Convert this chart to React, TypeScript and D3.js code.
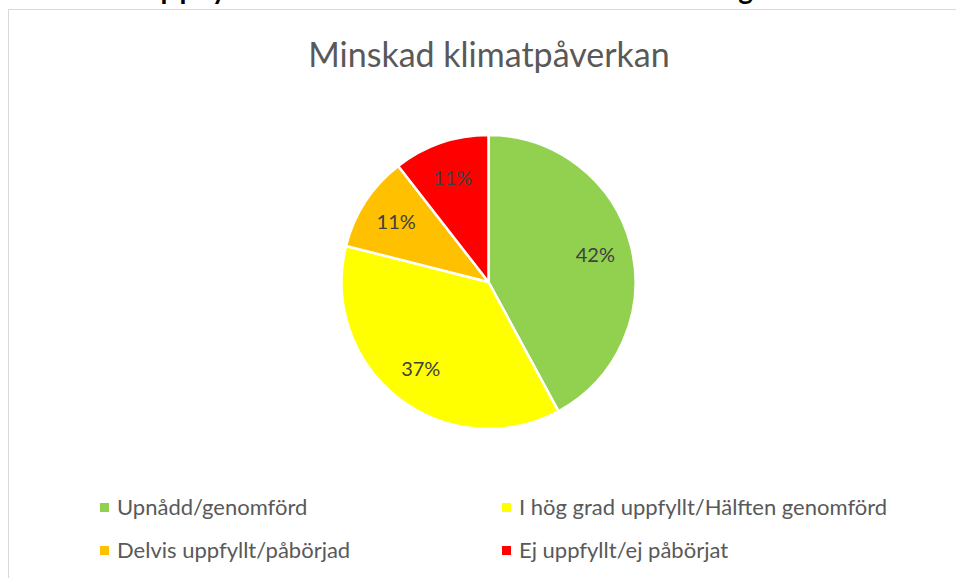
import React, { useEffect, useRef } from "react";
import * as d3 from "d3";

const categories = [
  "Upnådd/genomförd",
  "I hög grad uppfyllt/Hälften genomförd",
  "Delvis uppfyllt/påbörjad",
  "Ej uppfyllt/ej påbörjat",
];
const counts = [8, 7, 2, 2];
const colors = ["#92D050", "#FFFF00", "#FFC000", "#FF0000"];
const chartTitle = "Minskad klimatpåverkan";
const pageHeading = "Uppfyllnad av mål för hållbar utveckling";

const W = 956;
const H = 578;

const App: React.FC = () => {
  const svgRef = useRef<SVGSVGElement>(null);

  useEffect(() => {
    if (!svgRef.current) return;
    const svg = d3.select(svgRef.current);
    svg.selectAll("*").remove();

    const font = "Lato, 'Open Sans', sans-serif";

    // heading of the page, mostly cut off above the picture
    svg
      .append("text")
      .attr("x", 137)
      .attr("y", -1)
      .attr("textLength", 616)
      .attr("lengthAdjust", "spacing")
      .attr("font-family", font)
      .attr("font-weight", "bold")
      .attr("font-size", 28)
      .attr("fill", "#000")
      .text(pageHeading);

    // chart frame
    svg
      .append("rect")
      .attr("x", 8.5)
      .attr("y", 9.5)
      .attr("width", W + 20)
      .attr("height", H + 20)
      .attr("fill", "#fff")
      .attr("stroke", "#d9d9d9")
      .attr("stroke-width", 1);

    svg
      .append("text")
      .attr("x", 489)
      .attr("y", 67)
      .attr("text-anchor", "middle")
      .attr("font-family", font)
      .attr("font-size", 34)
      .attr("fill", "#595959")
      .text(chartTitle);

    const cx = 488.5;
    const cy = 282;
    const r = 147;
    const total = d3.sum(counts);

    const pie = d3
      .pie<number>()
      .sort(null)
      .value((d) => d);
    const arcs = pie(counts);
    const arc = d3.arc<d3.PieArcDatum<number>>().innerRadius(0).outerRadius(r);
    const labelArc = d3
      .arc<d3.PieArcDatum<number>>()
      .innerRadius(r * 0.75)
      .outerRadius(r * 0.75);

    const g = svg.append("g").attr("transform", `translate(${cx},${cy})`);

    g.selectAll("path")
      .data(arcs)
      .join("path")
      .attr("d", arc)
      .attr("fill", (_, i) => colors[i])
      .attr("stroke", "#fff")
      .attr("stroke-width", 2.5)
      .attr("stroke-linejoin", "round");

    g.selectAll("text.lbl")
      .data(arcs)
      .join("text")
      .attr("class", "lbl")
      .attr("transform", (d) => `translate(${labelArc.centroid(d)})`)
      .attr("text-anchor", "middle")
      .attr("dy", "0.35em")
      .attr("font-family", font)
      .attr("font-size", 20)
      .attr("fill", "#404040")
      .text((d) => `${Math.round((d.value / total) * 100)}%`);

    // legend
    const legendX = [100, 502];
    const legendY = [507, 550];
    const leg = svg
      .selectAll("g.leg")
      .data(categories)
      .join("g")
      .attr("class", "leg")
      .attr(
        "transform",
        (_, i) => `translate(${legendX[i % 2]},${legendY[Math.floor(i / 2)]})`
      );
    leg
      .append("rect")
      .attr("x", 0)
      .attr("y", -4)
      .attr("width", 9)
      .attr("height", 9)
      .attr("fill", (_, i) => colors[i]);
    leg
      .append("text")
      .attr("x", 17)
      .attr("y", 0)
      .attr("dy", "0.35em")
      .attr("font-family", font)
      .attr("font-size", 22)
      .attr("fill", "#595959")
      .text((d) => d);
  }, []);

  return (
    <div style={{ position: "absolute", left: 0, top: 0, width: W, height: H, overflow: "hidden" }}>
      <svg ref={svgRef} width={W} height={H} style={{ display: "block" }}></svg>
    </div>
  );
};

export default App;
